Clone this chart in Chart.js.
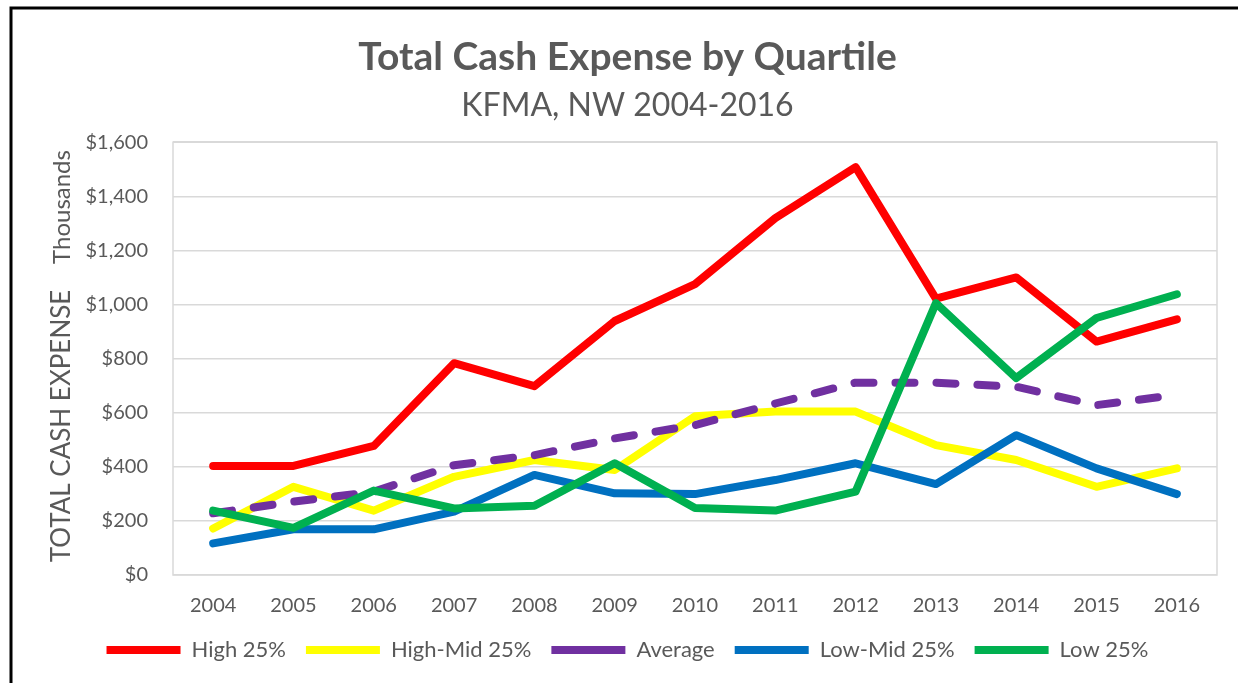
<!DOCTYPE html>
<html>
<head>
<meta charset="utf-8">
<script src="https://cdn.jsdelivr.net/npm/chart.js@4.4.1/dist/chart.umd.min.js"></script>
<style>
  html, body { margin: 0; padding: 0; background: #fff; overflow: hidden; }
  #wrap { position: relative; width: 1238px; height: 683px; }
  canvas { display: block; }
</style>
</head>
<body>
<div id="wrap"><canvas id="c" width="1238" height="683"></canvas></div>
<script>
const years = ['2004','2005','2006','2007','2008','2009','2010','2011','2012','2013','2014','2015','2016'];
const high25    = [403, 403, 477, 783, 698, 939, 1075, 1319, 1508, 1022, 1100, 863, 945];
const highMid25 = [172, 326, 238, 363, 425, 388, 587, 604, 604, 480, 425, 326, 394];
const average   = [228, 271, 308, 406, 443, 505, 554, 634, 711, 711, 696, 628, 666];
const lowMid25  = [117, 169, 169, 234, 370, 302, 299, 351, 413, 336, 517, 394, 299];
const low25     = [238, 174, 312, 246, 256, 413, 248, 238, 308, 1005, 728, 950, 1038];
const seriesNames = ['High 25%', 'High-Mid 25%', 'Average', 'Low-Mid 25%', 'Low 25%'];

const FONT = 'Lato, "Open Sans", sans-serif';
const GRAY = '#595959';
const PAD_LEFT = 38;

const extras = {
  id: 'extras',
  beforeDraw(chart) {
    const ctx = chart.ctx;
    ctx.save();
    ctx.fillStyle = '#fff';
    ctx.fillRect(0, 0, chart.width, chart.height);
    ctx.strokeStyle = '#000';
    ctx.lineWidth = 3;
    ctx.beginPath();
    ctx.moveTo(11, chart.height + 5);
    ctx.lineTo(11, 8);
    ctx.lineTo(chart.width + 5, 8);
    ctx.stroke();
    ctx.restore();
  },
  beforeDatasetsDraw(chart) {
    const {ctx, chartArea: a} = chart;
    ctx.save();
    ctx.strokeStyle = '#d9d9d9';
    ctx.lineWidth = 1.5;
    ctx.strokeRect(a.left, a.top, a.right - a.left, a.bottom - a.top);
    ctx.restore();
  },
  afterDraw(chart) {
    const ctx = chart.ctx;
    ctx.save();
    ctx.fillStyle = GRAY;
    ctx.textAlign = 'center';
    ctx.textBaseline = 'middle';
    ctx.translate(62, 426);
    ctx.rotate(-Math.PI / 2);
    ctx.font = '26px ' + FONT;
    ctx.fillText('TOTAL CASH EXPENSE', 0, 0);
    ctx.restore();
    ctx.save();
    ctx.fillStyle = GRAY;
    ctx.textAlign = 'center';
    ctx.textBaseline = 'middle';
    ctx.translate(62, 207);
    ctx.rotate(-Math.PI / 2);
    ctx.font = '24px ' + FONT;
    ctx.fillText('Thousands', 0, 0);
    ctx.restore();
  }
};

const common = {
  fill: false, pointRadius: 0, pointHoverRadius: 0, borderWidth: 8,
  tension: 0, borderCapStyle: 'round', borderJoinStyle: 'round'
};

new Chart(document.getElementById('c'), {
  type: 'line',
  data: {
    labels: years,
    datasets: [
      Object.assign({label: seriesNames[0], data: high25, borderColor: '#FF0000', backgroundColor: '#FF0000', order: 5}, common),
      Object.assign({label: seriesNames[1], data: highMid25, borderColor: '#FFFF00', backgroundColor: '#FFFF00', order: 4}, common),
      Object.assign({label: seriesNames[2], data: average, borderColor: '#7030A0', backgroundColor: '#7030A0', borderDash: [19, 22], order: 3}, common),
      Object.assign({label: seriesNames[3], data: lowMid25, borderColor: '#0070C0', backgroundColor: '#0070C0', order: 2}, common),
      Object.assign({label: seriesNames[4], data: low25, borderColor: '#00B050', backgroundColor: '#00B050', order: 1}, common)
    ]
  },
  options: {
    responsive: false,
    animation: false,
    devicePixelRatio: 1,
    layout: { padding: { left: PAD_LEFT, right: 21, top: 0, bottom: 12 } },
    plugins: {
      tooltip: { enabled: false },
      title: {
        display: true,
        text: 'Total Cash Expense by Quartile',
        color: GRAY,
        font: { family: FONT, size: 39, weight: 'bold' },
        padding: { top: 34, bottom: 6 }
      },
      subtitle: {
        display: true,
        text: 'KFMA, NW 2004-2016',
        color: GRAY,
        font: { family: FONT, size: 32, weight: 'normal' },
        padding: { top: 0, bottom: 17 }
      },
      legend: {
        position: 'bottom',
        labels: {
          usePointStyle: true,
          pointStyle: 'line',
          pointStyleWidth: 74,
          boxWidth: 74,
          color: GRAY,
          font: { family: FONT, size: 22 },
          padding: 20,
          sort: (a, b) => a.datasetIndex - b.datasetIndex
        }
      }
    },
    scales: {
      x: {
        offset: true,
        afterFit: (s) => { s.height = s.height - 18; },
        grid: { display: false, drawTicks: false },
        border: { display: false },
        ticks: { color: GRAY, font: { family: FONT, size: 20 }, padding: 19, maxRotation: 0, autoSkip: false }
      },
      y: {
        min: 0, max: 1600,
        afterFit: (s) => { s.width = 173 - PAD_LEFT; },
        grid: { color: '#d9d9d9', lineWidth: 1.5, drawTicks: false },
        border: { display: false },
        ticks: {
          stepSize: 200, color: GRAY, font: { family: FONT, size: 20 }, padding: 25,
          callback: (v) => '$' + v.toLocaleString('en-US')
        }
      }
    }
  },
  plugins: [extras]
});
</script>
</body>
</html>
